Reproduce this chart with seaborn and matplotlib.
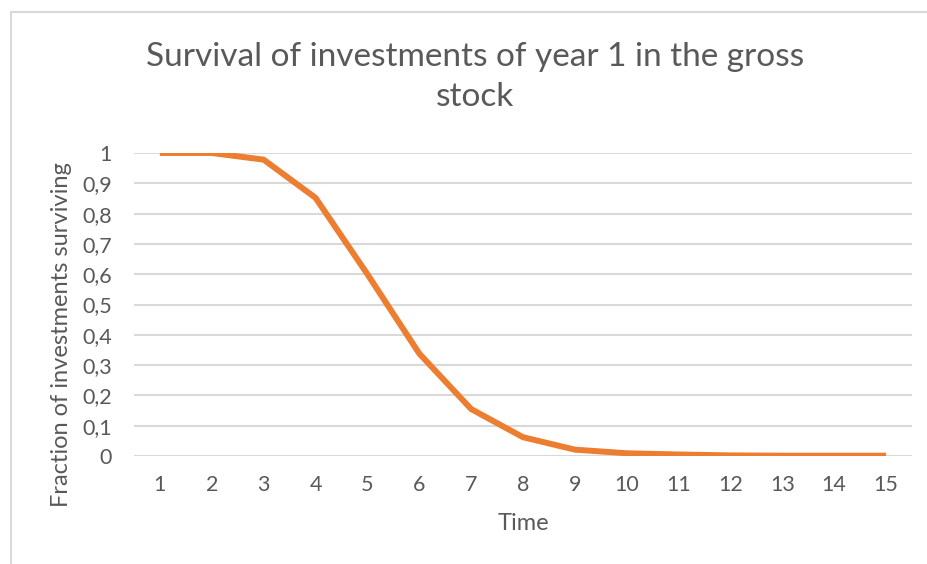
import matplotlib
matplotlib.use("Agg")
import matplotlib.pyplot as plt
from matplotlib.lines import Line2D
import seaborn as sns
import pandas as pd

# values
time = list(range(1, 16))
surviving = [1.0, 1.0, 0.978, 0.852, 0.60, 0.338, 0.155, 0.062, 0.021, 0.009,
             0.005, 0.002, 0.001, 0.001, 0.001]
y_ticks = [0, 0.1, 0.2, 0.3, 0.4, 0.5, 0.6, 0.7, 0.8, 0.9, 1]
y_tick_labels = ["0", "0,1", "0,2", "0,3", "0,4", "0,5", "0,6", "0,7", "0,8", "0,9", "1"]

title = "Survival of investments of year 1 in the gross\nstock"
x_label = "Time"
y_label = "Fraction of investments surviving"

df = pd.DataFrame({"Time": time, "Surviving": surviving})

sns.set_theme(style="white")
plt.rcParams["font.family"] = ["Lato", "DejaVu Sans"]

text_grey = "#595959"
grid_grey = "#d9d9d9"
orange = "#ED7D31"

fig = plt.figure(figsize=(9.28, 5.64), dpi=100)
ax = fig.add_axes([134 / 928, 1 - 456 / 564, 778 / 928, 303 / 564])

sns.lineplot(data=df, x="Time", y="Surviving", color=orange, linewidth=4.3, ax=ax,
             solid_capstyle="butt")

ax.set_xlim(0.5, 15.5)
ax.set_ylim(0, 1)
ax.set_xticks(time)
ax.set_xticklabels([str(t) for t in time])
ax.set_yticks(y_ticks)
ax.set_yticklabels(y_tick_labels)
ax.tick_params(axis="both", length=0, labelsize=15.5, colors=text_grey)
ax.tick_params(axis="x", pad=14)
ax.tick_params(axis="y", pad=16)

ax.grid(axis="y", color=grid_grey, linewidth=1.5)
ax.grid(axis="x", visible=False)
ax.set_axisbelow(True)
for side in ["top", "right", "left", "bottom"]:
    ax.spines[side].set_visible(False)

ax.set_xlabel(x_label, fontsize=17, color=text_grey, labelpad=13)
ax.set_ylabel(y_label, fontsize=17, color=text_grey)
ax.yaxis.set_label_coords(-0.08, 0.40)

fig.text(475 / 928, 1 - 77 / 564, title, ha="center", va="center",
         fontsize=24, color=text_grey, linespacing=1.4)

# chart border (left and top edges visible in the reference)
fig.add_artist(Line2D([11.5 / 928, 11.5 / 928], [0, 1 - 11.5 / 564],
                      transform=fig.transFigure, color=grid_grey, linewidth=1.5))
fig.add_artist(Line2D([11.5 / 928, 1], [1 - 11.5 / 564, 1 - 11.5 / 564],
                      transform=fig.transFigure, color=grid_grey, linewidth=1.5))

fig.savefig("out.png", dpi=100)
